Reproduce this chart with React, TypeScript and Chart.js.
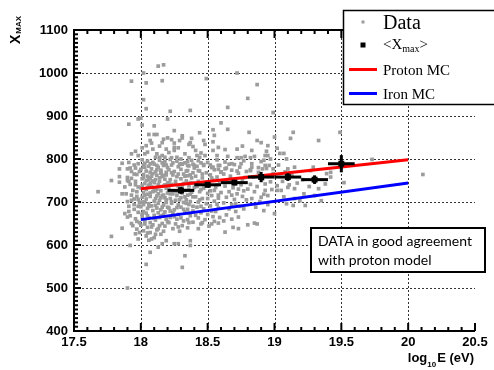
import React, { useEffect, useRef } from 'react';
import { Chart, registerables } from 'chart.js';

Chart.register(...registerables);

// ---------------- data ----------------
const xTicks = [17.5, 18, 18.5, 19, 19.5, 20, 20.5];
const yTicks = [400, 500, 600, 700, 800, 900, 1000, 1100];

const meanX = [18.3, 18.5, 18.7, 18.9, 19.1, 19.3, 19.5];
const meanY = [727, 740, 745, 758, 758, 752, 789];
const meanXErr = [0.1, 0.1, 0.1, 0.1, 0.1, 0.1, 0.1];
const meanYErr = [8, 6, 6, 12, 9, 10, 20];

const protonX = [18, 20];
const protonY = [731, 798];
const ironX = [18, 20];
const ironY = [659, 744];

const legendLabels = ['Data', '<X', 'max', '>', 'Proton MC', 'Iron MC'];
const noteLines = ['DATA in good agreement', 'with proton model'];

const scatterPoints: [number, number][] = [
  // sparse outliers
  [18.13, 1016], [18.17, 1019], [18.02, 1000], [17.93, 981], [18.04, 977], [18.16, 982], [18.49, 987],
  [18.72, 1000], [18.87, 973], [18.8, 941], [18.02, 938], [18.04, 917], [18.22, 911], [18.37, 913],
  [18.65, 920], [17.91, 881], [17.98, 893], [18.0, 895], [18.01, 879], [18.1, 877], [18.2, 893],
  [18.25, 866], [18.6, 884], [18.65, 869], [18.81, 862], [18.54, 868], [18.55, 855], [18.44, 861],
  [18.06, 857], [18.1, 857], [18.12, 857], [18.17, 846], [18.2, 849], [18.23, 845], [18.31, 854],
  [18.31, 849], [18.38, 848], [18.37, 838], [18.47, 843], [18.48, 834], [18.25, 837], [18.36, 834],
  [18.07, 843], [18.08, 837], [18.04, 831], [18.19, 823], [18.25, 820], [18.25, 827], [18.41, 820],
  [18.54, 840], [18.58, 827], [18.54, 820], [18.63, 822], [18.76, 830], [18.72, 823], [18.87, 843],
  [18.83, 820], [17.96, 818], [17.93, 812], [17.98, 808], [18.03, 812], [18.12, 812], [18.14, 804],
  [18.16, 808], [18.18, 804], [18.27, 804], [18.3, 800], [18.23, 803], [18.44, 804], [18.48, 808],
  [18.57, 808], [18.65, 806], [18.72, 803], [18.75, 803], [18.78, 806], [18.82, 803], [18.85, 806],
  [17.86, 790], [17.9, 777], [17.98, 789], [18.02, 781], [18.07, 789], [18.12, 785], [18.17, 789],
  [18.3, 789], [18.35, 785], [18.4, 785], [18.47, 785], [18.54, 781], [18.58, 785], [18.63, 777],
  [18.68, 789], [18.75, 789], [18.83, 781], [17.84, 777], [18.15, 769], [18.35, 773], [18.43, 773],
  [18.6, 769], [18.82, 773],
  [18.99, 908], [19.49, 862], [19.14, 862], [19.12, 848], [19.33, 843], [18.9, 838], [18.95, 831],
  [19.0, 851], [19.02, 825], [18.94, 818], [18.93, 808], [18.95, 808], [19.04, 813], [19.07, 813],
  [19.09, 800], [18.92, 797], [18.97, 800], [19.73, 799], [18.88, 780], [18.91, 777], [18.93, 785],
  [18.99, 777], [19.1, 777], [19.15, 781], [19.29, 781], [19.27, 773], [19.42, 769],
  [17.68, 724], [17.78, 750], [17.84, 759], [17.84, 746], [17.9, 750], [17.86, 719], [17.78, 620],
  [17.88, 673], [17.9, 665], [17.86, 639], [17.92, 599], [17.9, 500], [17.96, 626], [17.98, 614],
  [18.07, 583], [18.04, 555], [18.31, 548], [18.33, 575], [18.37, 610], [18.37, 599], [18.28, 603],
  [18.25, 603], [18.16, 603], [18.19, 610], [18.13, 595], [18.63, 630], [18.69, 641], [18.73, 638],
  [18.8, 647], [18.58, 651], [18.53, 649], [18.43, 638], [18.45, 649], [18.39, 653], [18.87, 649],
  [20.11, 764], [19.52, 745], [19.0, 673], [18.85, 651], [19.23, 692], [19.14, 692], [19.09, 696],
  [19.35, 703], [19.3, 715], [19.22, 719], [19.42, 758], [19.39, 766], [18.95, 715], [18.9, 711],
  [18.93, 727], [19.02, 727], [19.05, 727], [19.1, 734], [19.15, 731],
  // dense core, below 18.0
  [17.91, 792], [17.95, 786], [17.93, 771], [17.97, 764], [17.9, 757], [17.96, 748], [17.92, 741],
  [17.98, 735], [17.94, 727], [17.89, 719], [17.97, 713], [17.93, 704], [17.99, 698], [17.91, 690],
  [17.95, 683], [17.98, 676], [17.92, 668], [17.96, 661], [17.99, 652], [17.94, 645], [17.97, 637],
  [17.99, 629], [17.95, 707], [17.88, 735], [17.93, 755], [17.96, 779], [17.99, 771], [17.9, 701],
  [17.98, 690], [17.97, 724],
  [17.92, 779], [17.95, 765], [17.91, 748], [17.96, 740], [17.93, 716], [17.98, 706], [17.95, 694],
  [17.91, 678], [17.97, 655], [17.93, 650],
  // dense core 18.0 - 18.2
  [18.01, 798], [18.05, 795], [18.09, 792], [18.14, 797], [18.18, 794],
  [18.02, 786], [18.06, 783], [18.1, 788], [18.13, 781], [18.17, 785], [18.2, 780],
  [18.0, 776], [18.04, 772], [18.08, 777], [18.11, 770], [18.15, 774], [18.19, 769],
  [18.02, 764], [18.05, 760], [18.09, 766], [18.12, 762], [18.16, 759], [18.19, 763],
  [18.01, 754], [18.04, 750], [18.07, 756], [18.11, 752], [18.14, 748], [18.18, 753],
  [18.03, 743], [18.06, 739], [18.1, 745], [18.13, 741], [18.17, 737], [18.2, 744],
  [18.0, 733], [18.04, 729], [18.08, 735], [18.12, 730], [18.15, 726], [18.19, 732],
  [18.02, 722], [18.05, 718], [18.09, 724], [18.13, 719], [18.16, 715], [18.2, 721],
  [18.01, 711], [18.04, 707], [18.07, 713], [18.11, 708], [18.14, 704], [18.18, 710],
  [18.03, 700], [18.06, 696], [18.1, 702], [18.13, 697], [18.17, 693], [18.19, 699],
  [18.0, 689], [18.05, 685], [18.08, 691], [18.12, 686], [18.15, 682], [18.2, 688],
  [18.02, 678], [18.04, 674], [18.09, 680], [18.13, 675], [18.17, 671],
  [18.01, 667], [18.06, 663], [18.1, 669], [18.14, 664], [18.19, 660],
  [18.03, 656], [18.07, 652], [18.11, 658], [18.16, 650],
  [18.0, 646], [18.05, 641], [18.09, 647], [18.13, 638], [18.18, 644],
  [18.02, 633], [18.07, 629], [18.12, 635], [18.04, 621], [18.1, 617], [18.15, 625],
  [18.06, 611], [18.01, 700], [18.07, 744], [18.15, 767], [18.03, 790], [18.17, 716], [18.11, 726],
  [18.08, 760],
  [18.03, 781], [18.07, 769], [18.12, 775], [18.16, 791], [18.19, 786],
  [18.02, 758], [18.06, 752], [18.09, 749], [18.14, 756], [18.17, 762],
  [18.01, 739], [18.05, 734], [18.1, 731], [18.14, 736], [18.18, 740],
  [18.03, 716], [18.07, 721], [18.12, 714], [18.15, 710], [18.19, 705],
  [18.02, 694], [18.06, 690], [18.11, 692], [18.16, 688], [18.18, 677],
  [18.01, 672], [18.05, 668], [18.1, 662], [18.15, 668], [18.2, 654],
  [18.03, 649], [18.08, 642], [18.14, 645], [18.17, 632], [18.11, 625], [18.05, 628], [18.08, 614],
  // dense core 18.2 - 18.4
  [18.22, 799], [18.27, 795], [18.33, 791], [18.38, 797],
  [18.23, 786], [18.28, 782], [18.31, 788], [18.36, 784], [18.4, 779],
  [18.21, 775], [18.25, 771], [18.3, 776], [18.34, 772], [18.39, 768],
  [18.24, 763], [18.27, 759], [18.32, 765], [18.35, 761], [18.38, 756],
  [18.22, 752], [18.26, 748], [18.3, 754], [18.34, 749], [18.37, 745],
  [18.23, 741], [18.28, 737], [18.32, 743], [18.36, 738], [18.4, 734],
  [18.21, 730], [18.25, 726], [18.29, 732], [18.33, 727], [18.38, 723],
  [18.24, 719], [18.27, 715], [18.31, 721], [18.35, 716], [18.39, 712],
  [18.22, 708], [18.26, 704], [18.3, 710], [18.34, 705], [18.37, 701],
  [18.23, 697], [18.28, 693], [18.32, 699], [18.36, 694],
  [18.21, 686], [18.25, 682], [18.3, 688], [18.35, 683], [18.39, 679],
  [18.24, 675], [18.28, 671], [18.33, 677], [18.37, 668],
  [18.22, 664], [18.27, 660], [18.32, 656], [18.26, 649], [18.31, 645], [18.36, 652],
  [18.24, 638], [18.29, 632], [18.35, 640],
  [18.24, 791], [18.29, 787], [18.35, 794], [18.39, 788],
  [18.23, 768], [18.28, 765], [18.33, 760], [18.37, 763],
  [18.21, 745], [18.26, 741], [18.31, 739], [18.36, 729], [18.39, 744],
  [18.22, 719], [18.27, 724], [18.33, 712], [18.37, 718],
  [18.23, 701], [18.29, 705], [18.34, 697], [18.39, 690],
  [18.22, 679], [18.27, 687], [18.32, 683], [18.36, 674],
  [18.25, 666], [18.3, 663], [18.35, 659], [18.21, 652], [18.28, 642],
  // 18.4 - 18.6
  [18.43, 796], [18.5, 792], [18.57, 798],
  [18.42, 783], [18.47, 787], [18.53, 780], [18.59, 785],
  [18.44, 772], [18.49, 768], [18.55, 775], [18.6, 770],
  [18.41, 760], [18.46, 756], [18.52, 763], [18.57, 758],
  [18.43, 748], [18.48, 744], [18.54, 751], [18.59, 746],
  [18.42, 736], [18.47, 732], [18.51, 739], [18.56, 734],
  [18.44, 724], [18.5, 720], [18.55, 727], [18.6, 722],
  [18.41, 712], [18.46, 708], [18.53, 715], [18.58, 709],
  [18.43, 700], [18.49, 696], [18.55, 702],
  [18.42, 688], [18.47, 684], [18.52, 691], [18.58, 686],
  [18.45, 675], [18.5, 671], [18.56, 678],
  [18.43, 663], [18.48, 659], [18.54, 666], [18.46, 652], [18.51, 644],
  [18.45, 791], [18.52, 786], [18.58, 776], [18.46, 765], [18.53, 756], [18.49, 741], [18.57, 740],
  [18.45, 729], [18.52, 726], [18.58, 716], [18.44, 705], [18.5, 708], [18.57, 695], [18.45, 690],
  [18.53, 679], [18.59, 664], [18.41, 669], [18.55, 655],
  // 18.6 - 18.8
  [18.63, 793], [18.7, 787], [18.77, 796],
  [18.64, 779], [18.68, 774], [18.74, 781], [18.79, 771],
  [18.62, 765], [18.67, 760], [18.73, 767], [18.78, 757],
  [18.65, 750], [18.7, 745], [18.76, 752],
  [18.63, 737], [18.69, 733], [18.75, 740], [18.8, 730],
  [18.66, 724], [18.72, 719], [18.77, 726],
  [18.64, 711], [18.7, 706], [18.76, 713],
  [18.62, 698], [18.68, 694], [18.74, 690],
  [18.66, 684], [18.71, 678], [18.64, 670], [18.73, 665],
  [18.66, 788], [18.72, 772], [18.67, 748], [18.73, 730], [18.68, 716], [18.79, 705], [18.71, 696],
  [18.77, 684], [18.62, 656], [18.68, 660],
  // 18.8 - 19.0
  [18.83, 789], [18.9, 794], [18.96, 785],
  [18.82, 775], [18.88, 769], [18.94, 778], [18.99, 766],
  [18.84, 758], [18.91, 753], [18.97, 747],
  [18.82, 741], [18.87, 736], [18.93, 742],
  [18.85, 724], [18.92, 718], [18.98, 729],
  [18.83, 708], [18.89, 701], [18.95, 694], [18.86, 688], [18.92, 680],
  // 19.0 - 19.4
  [19.03, 786], [19.08, 770], [19.13, 761], [19.06, 748], [19.17, 744], [19.02, 738], [19.11, 740],
  [19.21, 752], [19.26, 736], [19.07, 712], [19.19, 703], [19.33, 731], [19.38, 742], [19.15, 708],
  // 800 - 845 band extra
  [18.05, 816], [18.09, 823], [18.14, 830], [18.21, 815], [18.28, 826], [18.33, 812], [18.39, 829],
  [18.45, 814], [18.01, 826], [18.16, 838], [18.29, 843], [18.42, 808], [18.11, 804], [18.36, 803],
];

// ---------------- drawing helpers ----------------
function line(ctx: CanvasRenderingContext2D, x1: number, y1: number, x2: number, y2: number) {
  ctx.beginPath();
  ctx.moveTo(x1, y1);
  ctx.lineTo(x2, y2);
  ctx.stroke();
}

const decorPlugin = {
  id: 'decor',
  beforeDatasetsDraw(chart: any) {
    const { ctx, chartArea: a, scales } = chart;
    const xs = scales.x;
    const ys = scales.y;
    ctx.save();
    ctx.strokeStyle = '#333';
    ctx.lineWidth = 1;
    ctx.setLineDash([2, 2]);
    for (const v of xTicks) {
      if (v <= xs.min || v >= xs.max) continue;
      const px = Math.round(xs.getPixelForValue(v)) + 0.5;
      line(ctx, px, a.top, px, a.bottom);
    }
    for (const v of yTicks) {
      if (v <= ys.min || v >= ys.max) continue;
      const py = Math.round(ys.getPixelForValue(v)) + 0.5;
      line(ctx, a.left, py, a.right, py);
    }
    ctx.restore();
  },
  afterDatasetsDraw(chart: any) {
    const { ctx, chartArea: a, scales } = chart;
    const xs = scales.x;
    const ys = scales.y;
    ctx.save();
    // error bars
    ctx.strokeStyle = '#000';
    ctx.lineWidth = 3;
    meanX.forEach((mx, i) => {
      const my = meanY[i];
      line(ctx, xs.getPixelForValue(mx - meanXErr[i]), ys.getPixelForValue(my),
        xs.getPixelForValue(mx + meanXErr[i]), ys.getPixelForValue(my));
      line(ctx, xs.getPixelForValue(mx), ys.getPixelForValue(my - meanYErr[i]),
        xs.getPixelForValue(mx), ys.getPixelForValue(my + meanYErr[i]));
    });

    // frame
    ctx.lineWidth = 2;
    ctx.strokeStyle = '#000';
    line(ctx, a.left, a.top, a.left, a.bottom + 1);
    line(ctx, a.left - 1, a.bottom, a.right, a.bottom);
    line(ctx, a.left - 1, a.top, a.right, a.top);
    for (let k = 0; k <= 30; k++) {
      const v = 17.5 + k * 0.1;
      const px = xs.getPixelForValue(v);
      const major = k % 5 === 0;
      const len = major ? 8 : 4;
      line(ctx, px, a.bottom, px, a.bottom - len);
      line(ctx, px, a.top, px, a.top + len);
    }
    for (let k = 0; k <= 70; k++) {
      const v = 400 + k * 10;
      const py = ys.getPixelForValue(v);
      const major = k % 10 === 0;
      const len = major ? 7 : 4;
      line(ctx, a.left, py, a.left + len, py);
    }

    // axis titles
    ctx.fillStyle = '#000';
    ctx.textBaseline = 'alphabetic';
    const bigF = "bold 13px 'Liberation Sans', Arial, sans-serif";
    const subF = "bold 8px 'Liberation Sans', Arial, sans-serif";
    ctx.font = bigF;
    const w1 = ctx.measureText('log').width;
    const w3 = ctx.measureText('E (eV)').width;
    ctx.font = subF;
    const w2 = ctx.measureText('10').width;
    const right = a.right - 1;
    const sx = right - (w1 + w2 + 1 + w3);
    const base = 362;
    ctx.font = bigF;
    ctx.textAlign = 'left';
    ctx.fillText('log', sx, base);
    ctx.font = subF;
    ctx.fillText('10', sx + w1, base + 5);
    ctx.font = bigF;
    ctx.fillText('E (eV)', sx + w1 + w2 + 1, base);

    ctx.save();
    ctx.translate(19.5, 44);
    ctx.rotate(-Math.PI / 2);
    ctx.font = "bold 14px 'Liberation Sans', Arial, sans-serif";
    ctx.fillText('X', 0, 0);
    const wx = ctx.measureText('X').width;
    ctx.font = "bold 8px 'Liberation Sans', Arial, sans-serif";
    ctx.fillText('MAX', wx + 1, 1.5);
    ctx.restore();

    // legend box
    ctx.fillStyle = '#fff';
    ctx.fillRect(343, 10, 160, 95);
    ctx.strokeStyle = '#000';
    ctx.lineWidth = 1.5;
    ctx.strokeRect(343.5, 10.5, 160, 94);
    ctx.fillStyle = '#9c9c9c';
    ctx.fillRect(361.5, 20.5, 3, 3);
    ctx.fillStyle = '#000';
    ctx.font = "20px 'Liberation Serif', 'Times New Roman', serif";
    ctx.fillText(legendLabels[0], 383, 29);
    ctx.fillRect(360.5, 42.5, 5, 5);
    ctx.font = "15px 'Liberation Serif', 'Times New Roman', serif";
    ctx.fillText(legendLabels[1], 383, 49);
    let lx = 383 + ctx.measureText(legendLabels[1]).width;
    ctx.font = "10px 'Liberation Serif', 'Times New Roman', serif";
    ctx.fillText(legendLabels[2], lx, 52);
    lx += ctx.measureText(legendLabels[2]).width;
    ctx.font = "15px 'Liberation Serif', 'Times New Roman', serif";
    ctx.fillText(legendLabels[3], lx, 49);
    ctx.strokeStyle = '#ff0000';
    ctx.lineWidth = 3;
    line(ctx, 349, 69.5, 377, 69.5);
    ctx.fillText(legendLabels[4], 383, 75);
    ctx.strokeStyle = '#0000ff';
    line(ctx, 349, 93.5, 377, 93.5);
    ctx.fillText(legendLabels[5], 383, 99);

    // annotation box
    ctx.fillStyle = '#fff';
    ctx.fillRect(311, 228, 174, 44);
    ctx.strokeStyle = '#000';
    ctx.lineWidth = 2;
    ctx.strokeRect(311, 228, 174, 44);
    ctx.fillStyle = '#000';
    ctx.font = "14px Lato, 'Open Sans', sans-serif";
    ctx.fillText(noteLines[0], 318, 246);
    ctx.fillText(noteLines[1], 318, 265);

    ctx.restore();
  },
};

export default function App() {
  const ref = useRef<HTMLCanvasElement | null>(null);
  useEffect(() => {
    const canvas = ref.current;
    if (!canvas) return;
    const chart = new Chart(canvas, {
      type: 'scatter',
      data: {
        datasets: [
          {
            label: '<Xmax>',
            data: meanX.map((x, i) => ({ x, y: meanY[i] })),
            pointStyle: 'rect',
            pointRadius: 4.2,
            backgroundColor: '#000',
            borderColor: '#000',
            borderWidth: 0,
            order: 0,
          },
          {
            label: 'Proton MC',
            data: protonX.map((x, i) => ({ x, y: protonY[i] })),
            showLine: true,
            borderColor: '#ff0000',
            borderWidth: 3,
            pointRadius: 0,
            order: 1,
          },
          {
            label: 'Iron MC',
            data: ironX.map((x, i) => ({ x, y: ironY[i] })),
            showLine: true,
            borderColor: '#0000ff',
            borderWidth: 3,
            pointRadius: 0,
            order: 2,
          },
          {
            label: 'Data',
            data: scatterPoints.map(([x, y]) => ({ x, y })),
            pointStyle: 'rect',
            pointRadius: 2.6,
            backgroundColor: '#9c9c9c',
            borderWidth: 0,
            order: 3,
          },
        ],
      } as any,
      options: {
        responsive: false,
        animation: false,
        devicePixelRatio: 1,
        layout: { padding: { left: 0, right: 19, top: 30, bottom: 0 } },
        plugins: { legend: { display: false }, tooltip: { enabled: false } },
        scales: {
          x: {
            type: 'linear',
            min: 17.5,
            max: 20.5,
            afterFit: (s: any) => { s.height = 39; },
            afterBuildTicks: (s: any) => { s.ticks = xTicks.map((v) => ({ value: v })); },
            ticks: {
              callback: (v: any) => String(v),
              autoSkip: false,
              maxRotation: 0,
              padding: 4,
              color: '#000',
              font: { family: "'Liberation Sans', Arial, sans-serif", size: 13, weight: 'bold' },
            },
            grid: { display: false, drawTicks: false },
            border: { display: false },
          },
          y: {
            type: 'linear',
            min: 400,
            max: 1100,
            afterFit: (s: any) => { s.width = 74; },
            afterBuildTicks: (s: any) => { s.ticks = yTicks.map((v) => ({ value: v })); },
            ticks: {
              callback: (v: any) => String(v),
              autoSkip: false,
              padding: 6,
              color: '#000',
              font: { family: "'Liberation Sans', Arial, sans-serif", size: 13, weight: 'bold' },
            },
            grid: { display: false, drawTicks: false },
            border: { display: false },
          },
        },
      } as any,
      plugins: [decorPlugin],
    });
    return () => chart.destroy();
  }, []);
  return (
    <div style={{ position: 'absolute', left: 0, top: 0, width: 494, height: 370, background: '#fff' }}>
      <canvas ref={ref} width={494} height={370} style={{ width: 494, height: 370, display: 'block' }} />
    </div>
  );
}
